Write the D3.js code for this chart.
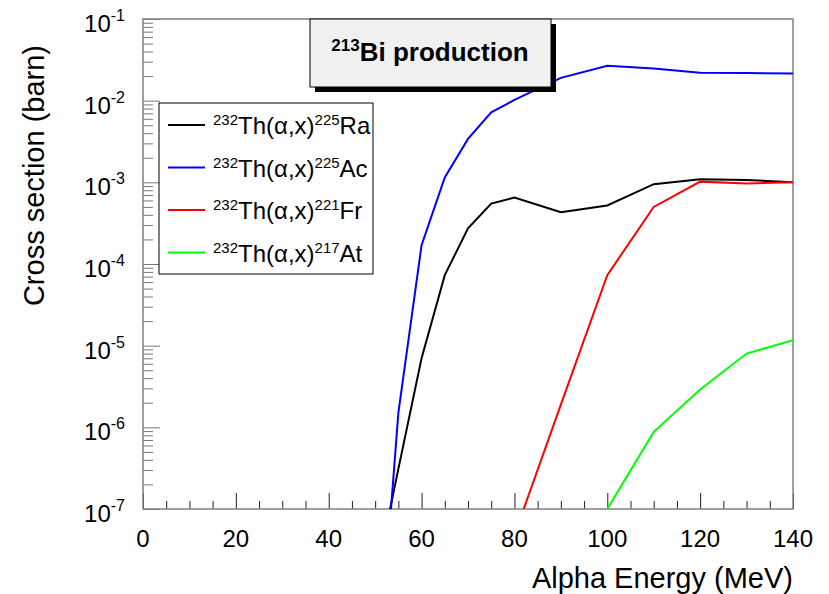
<!DOCTYPE html>
<html>
<head>
<meta charset="utf-8">
<script src="https://cdn.jsdelivr.net/npm/d3@7"></script>
<style>
    body { margin: 0; background: #fff; }
    text { font-family: "Liberation Sans", Arial, sans-serif; }
</style>
</head>
<body>
<div id="chart"></div>
<script>
// alpha energy (MeV) and cross section (barn) for each product
var raEnergy = [50, 55, 60, 65, 70, 75, 80, 90, 100, 110, 120, 130, 140];
var raXs = [1.3e-8, 3.1e-7, 7.0e-6, 7.3e-5, 2.73e-4, 5.5e-4, 6.5e-4, 4.3e-4, 5.2e-4, 9.5e-4, 1.09e-3, 1.07e-3, 1.0e-3];

var acEnergy = [50, 55, 60, 65, 70, 75, 80, 90, 100, 110, 120, 130, 140];
var acXs = [3e-10, 1.5e-6, 1.7e-4, 1.15e-3, 3.4e-3, 7.2e-3, 1.02e-2, 1.9e-2, 2.68e-2, 2.48e-2, 2.2e-2, 2.18e-2, 2.15e-2];

var frEnergy = [80, 90, 100, 110, 120, 130, 140];
var frXs = [4.8e-8, 1.9e-6, 7.3e-5, 5.0e-4, 1.02e-3, 9.7e-4, 1.0e-3];

var atEnergy = [100, 110, 120, 130, 140];
var atXs = [1.0e-7, 8.8e-7, 2.9e-6, 8.0e-6, 1.17e-5];

var xMajorTicks = [0, 20, 40, 60, 80, 100, 120, 140];
var yExponents = [-7, -6, -5, -4, -3, -2, -1];

var legendLabels = [
    { pre: "232", mid: "Th(\u03b1,x)", post: "225", el: "Ra" },
    { pre: "232", mid: "Th(\u03b1,x)", post: "225", el: "Ac" },
    { pre: "232", mid: "Th(\u03b1,x)", post: "221", el: "Fr" },
    { pre: "232", mid: "Th(\u03b1,x)", post: "217", el: "At" }
];

var series = [
    { energy: raEnergy, xs: raXs, color: "#000000" },
    { energy: acEnergy, xs: acXs, color: "#0000ff" },
    { energy: frEnergy, xs: frXs, color: "#ff0000" },
    { energy: atEnergy, xs: atXs, color: "#00ff00" }
];

// set the dimensions and margins of the graph
var margin = { top: 19, right: 36, bottom: 85, left: 143 },
    width = 829 - margin.left - margin.right,
    height = 594 - margin.top - margin.bottom;

var root = d3.select("#chart")
    .append("svg")
    .attr("width", 829)
    .attr("height", 594);

var svg = root.append("g")
    .attr("transform", "translate(" + margin.left + "," + margin.top + ")");

var x = d3.scaleLinear().domain([0, 140]).range([0, width]);
var y = d3.scaleLog().domain([1e-7, 1e-1]).range([height, 0]);

svg.append("clipPath").attr("id", "plotClip")
    .append("rect").attr("width", width).attr("height", height);

// X axis ticks (inward)
var xMinor = d3.range(0, 141, 5).filter(function (d) { return d % 20 !== 0; });
svg.append("g")
    .attr("class", "xminor")
    .attr("transform", "translate(0," + height + ")")
    .call(d3.axisBottom(x).tickValues(xMinor).tickSize(-8).tickFormat(""));
svg.append("g")
    .attr("class", "xmajor")
    .attr("transform", "translate(0," + height + ")")
    .call(d3.axisBottom(x).tickValues(xMajorTicks).tickSize(-16).tickFormat(""));

// Y axis ticks (inward)
var yMinor = [];
yExponents.slice(0, -1).forEach(function (e) {
    for (var m = 2; m < 10; m++) yMinor.push(m * Math.pow(10, e));
});
svg.append("g")
    .attr("class", "yminor")
    .call(d3.axisLeft(y).tickValues(yMinor).tickSize(-10).tickFormat(""));
svg.append("g")
    .attr("class", "ymajor")
    .call(d3.axisLeft(y).tickValues(yExponents.map(function (e) { return Math.pow(10, e); }))
        .tickSize(-17).tickFormat(""));

svg.selectAll(".domain").remove();
svg.selectAll(".xminor line, .xmajor line").attr("stroke", "#222");
svg.selectAll(".yminor line, .ymajor line").attr("stroke", "#777");

// frame
svg.append("rect")
    .attr("width", width)
    .attr("height", height)
    .attr("fill", "none")
    .attr("stroke", "#808080")
    .attr("stroke-width", 1.5);

// x tick labels
svg.selectAll(".xlab").data(xMajorTicks)
    .enter().append("text")
    .attr("x", function (d) { return x(d); })
    .attr("y", height + 38)
    .attr("text-anchor", "middle")
    .attr("font-size", 24)
    .text(function (d) { return d; });

// y tick labels 10^n
var ylab = svg.selectAll(".ylab").data(yExponents)
    .enter().append("text")
    .attr("x", -18)
    .attr("y", function (d) { return y(Math.pow(10, d)) + 13; })
    .attr("text-anchor", "end")
    .attr("font-size", 24);
ylab.append("tspan").text("10");
ylab.append("tspan").attr("font-size", 16).attr("dy", -11).text(function (d) { return d; });

// axis titles
svg.append("text")
    .attr("x", width)
    .attr("y", height + 79)
    .attr("text-anchor", "end")
    .attr("font-size", 29)
    .text("Alpha Energy (MeV)");

svg.append("text")
    .attr("transform", "translate(-99,26) rotate(-90)")
    .attr("text-anchor", "end")
    .attr("font-size", 29)
    .text("Cross section (barn)");

// the curves
var line = d3.line()
    .x(function (d) { return x(d[0]); })
    .y(function (d) { return y(d[1]); });

svg.append("g").attr("clip-path", "url(#plotClip)")
    .selectAll("path").data(series)
    .enter().append("path")
    .attr("fill", "none")
    .attr("stroke", function (d) { return d.color; })
    .attr("stroke-width", 2)
    .attr("d", function (d) { return line(d3.zip(d.energy, d.xs)); });

// legend
var legend = root.append("g").attr("transform", "translate(159,103)");
legend.append("rect")
    .attr("width", 214)
    .attr("height", 171)
    .attr("fill", "#fff")
    .attr("stroke", "#000")
    .attr("stroke-width", 1);

var entry = legend.selectAll(".entry").data(legendLabels)
    .enter().append("g")
    .attr("transform", function (d, i) { return "translate(0," + (22 + i * 42.5) + ")"; });
entry.append("line")
    .attr("x1", 9).attr("x2", 46)
    .attr("stroke", function (d, i) { return series[i].color; })
    .attr("stroke-width", 2);
var lt = entry.append("text")
    .attr("x", 54)
    .attr("y", 9)
    .attr("font-size", 24);
lt.append("tspan").attr("font-size", 15).attr("dy", -9).text(function (d) { return d.pre; });
lt.append("tspan").attr("dy", 9).text(function (d) { return d.mid; });
lt.append("tspan").attr("font-size", 15).attr("dy", -9).text(function (d) { return d.post; });
lt.append("tspan").attr("dy", 9).text(function (d) { return d.el; });

// title box with shadow
var tb = root.append("g").attr("transform", "translate(310,19)");
tb.append("rect").attr("x", 5).attr("y", 5).attr("width", 241).attr("height", 68).attr("fill", "#000");
tb.append("rect").attr("width", 241).attr("height", 68)
    .attr("fill", "#f0f0f0").attr("stroke", "#000").attr("stroke-width", 1);
var tt = tb.append("text")
    .attr("x", 120)
    .attr("y", 42)
    .attr("text-anchor", "middle")
    .attr("font-weight", "bold")
    .attr("font-size", 26);
tt.append("tspan").attr("font-size", 17).attr("dy", -10).text("213");
tt.append("tspan").attr("dy", 10).text("Bi production");
</script>
</body>
</html>
